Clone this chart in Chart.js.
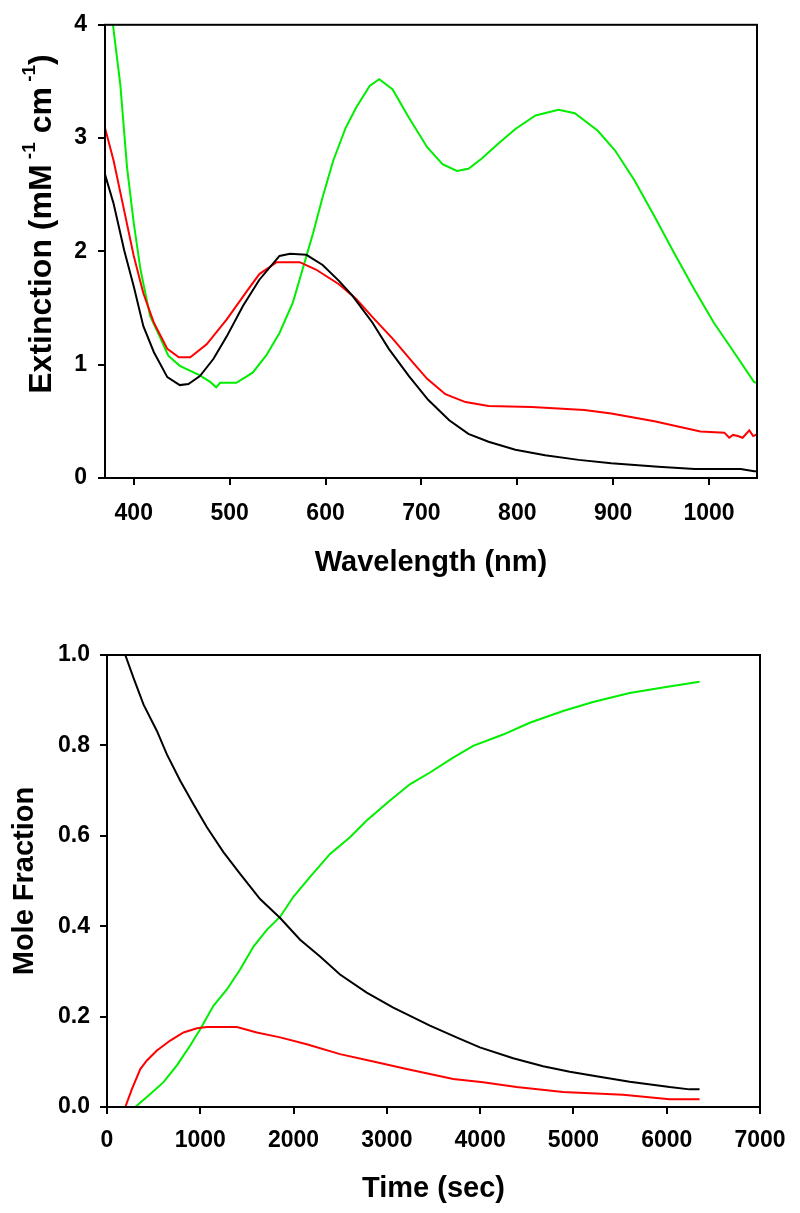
<!DOCTYPE html>
<html><head><meta charset="utf-8">
<script src="https://cdn.jsdelivr.net/npm/chart.js@4.4.1/dist/chart.umd.min.js"></script>
<style>
html,body{margin:0;padding:0;background:#fff;width:800px;height:1213px;overflow:hidden;}
#c1{position:absolute;left:0;top:0;}
#c2{position:absolute;left:0;top:610px;}
</style>
</head><body>
<canvas id="c1" width="800" height="600"></canvas>
<canvas id="c2" width="800" height="603"></canvas>
<script>
// ---------- Top chart data (Wavelength nm vs Extinction) ----------
const blackNm  = [370,379,390,400,410,421,435,448,457,469,483,497,514,531,552,563,580,597,614,628,649,666,687,707,729,749,770,798,829,864,898,947,985,1033,1047,1050];
const blackExt = [2.68,2.42,2.01,1.69,1.34,1.11,0.89,0.82,0.83,0.90,1.05,1.25,1.52,1.75,1.96,1.98,1.97,1.88,1.74,1.61,1.37,1.14,0.90,0.69,0.51,0.39,0.32,0.25,0.20,0.16,0.13,0.10,0.08,0.08,0.06,0.06];

const redNm  = [370,379,390,400,410,421,435,447,459,476,497,518,531,549,573,590,614,632,649,670,691,706,725,746,770,815,870,898,943,991,1016,1021,1025,1030,1035,1042,1046,1050];
const redExt = [3.09,2.80,2.36,1.96,1.63,1.37,1.14,1.065,1.065,1.18,1.40,1.65,1.80,1.905,1.905,1.84,1.71,1.58,1.42,1.23,1.02,0.875,0.74,0.67,0.635,0.627,0.60,0.57,0.50,0.41,0.40,0.355,0.38,0.37,0.355,0.42,0.37,0.385];

const greenNm  = [378,386,393,400,407,417,428,436,448,469,480,486,490,507,524,538,552,566,576,587,597,608,621,632,646,656,670,687,706,722,737,749,763,780,798,819,843,860,884,902,922,943,964,985,1005,1026,1047,1050];
const greenExt = [4.02,3.47,2.74,2.25,1.84,1.43,1.23,1.08,0.99,0.905,0.846,0.80,0.84,0.84,0.93,1.08,1.28,1.55,1.84,2.16,2.48,2.80,3.09,3.27,3.46,3.52,3.43,3.18,2.92,2.77,2.71,2.73,2.82,2.95,3.08,3.20,3.25,3.22,3.065,2.89,2.63,2.31,1.98,1.66,1.37,1.11,0.846,0.84];

const wavelengthTicks = [400,500,600,700,800,900,1000];
const extinctionTicks = [0,1,2,3,4];

// ---------- Bottom chart data (Time sec vs Mole Fraction) ----------
const blackT = [196,285,392,535,642,785,927,1071,1248,1427,1641,1856,2070,2284,2498,2784,3069,3462,3747,3997,4354,4675,4961,5246,5603,6031,6245,6352];
const blackF = [1.0,0.949,0.89,0.832,0.78,0.722,0.67,0.619,0.564,0.516,0.46,0.418,0.37,0.333,0.293,0.253,0.22,0.18,0.154,0.132,0.108,0.09,0.078,0.068,0.056,0.044,0.039,0.039];

const greenT = [197,303,464,606,749,892,999,1141,1285,1427,1570,1713,1856,1998,2177,2391,2605,2784,3033,3247,3462,3711,3925,4246,4532,4889,5210,5603,5959,6352];
const greenF = [0,0,0.029,0.055,0.092,0.136,0.172,0.224,0.26,0.304,0.355,0.392,0.421,0.465,0.509,0.56,0.597,0.634,0.678,0.714,0.74,0.773,0.799,0.824,0.85,0.876,0.896,0.916,0.928,0.941];

const redT = [196,268,357,428,535,678,820,964,1071,1392,1606,1856,2141,2498,2891,3212,3462,3711,4032,4390,4889,5531,6031,6352];
const redF = [0,0.04,0.084,0.103,0.125,0.147,0.165,0.174,0.177,0.177,0.165,0.154,0.139,0.117,0.099,0.084,0.073,0.062,0.055,0.044,0.033,0.027,0.017,0.017];

const timeTicks = [0,1000,2000,3000,4000,5000,6000,7000];
const fractionTicks = [0,0.2,0.4,0.6,0.8,1.0];

// ---------- helpers ----------
const FAMILY = '"Liberation Sans", Arial, Helvetica, sans-serif';
const BLACK = '#000000', RED = '#ff0000', GREEN = '#00ee00';
const pts = (xs, ys) => xs.map((x, i) => ({x: x, y: ys[i]}));
const ds = (data, color) => ({data, borderColor: color, borderWidth: 2, pointRadius: 0, tension: 0, fill: false});

const framePlugin = {
  id: 'frame',
  afterDraw(chart) {
    const {ctx, chartArea: a} = chart;
    ctx.save();
    ctx.strokeStyle = '#000';
    ctx.lineWidth = 2;
    ctx.strokeRect(a.left, a.top, a.right - a.left, a.bottom - a.top);
    ctx.restore();
  }
};

function axisOpts(ticksArr, min, max, fmt, labelPad) {
  return {
    type: 'linear', min, max,
    afterBuildTicks: (scale) => { scale.ticks = ticksArr.map(v => ({value: v})); },
    grid: {display: true, drawOnChartArea: false, drawTicks: true, tickLength: 7, color: '#000', lineWidth: 2},
    border: {display: true, color: '#000', width: 2},
    ticks: {autoSkip: false, maxRotation: 0, color: '#000', padding: labelPad,
            font: {family: FAMILY, size: 23, weight: 'bold'},
            callback: fmt}
  };
}

// ---------- top chart ----------
const yTitlePlugin = {
  id: 'yTitleSup',
  afterDraw(chart) {
    const ctx = chart.ctx;
    const big = 'bold 32px ' + FAMILY;
    const small = 'bold 19px ' + FAMILY;
    const parts = [
      ['Extinction (mM', big, 0],
      [' -1', small, 12],
      [' cm', big, 0],
      [' -1', small, 12],
      [')', big, 0]
    ];
    ctx.save();
    let total = 0;
    parts.forEach(p => { ctx.font = p[1]; total += ctx.measureText(p[0]).width; });
    ctx.translate(42, 224);
    ctx.rotate(-Math.PI / 2);
    ctx.fillStyle = '#000';
    ctx.textBaseline = 'middle';
    ctx.textAlign = 'left';
    let x = -total / 2;
    parts.forEach(p => {
      ctx.font = p[1];
      ctx.fillText(p[0], x, -p[2]);
      x += ctx.measureText(p[0]).width;
    });
    ctx.restore();
  }
};

new Chart(document.getElementById('c1'), {
  type: 'line',
  data: {datasets: [
    ds(pts(blackNm, blackExt), BLACK),
    ds(pts(redNm, redExt), RED),
    ds(pts(greenNm, greenExt), GREEN)
  ]},
  options: {
    responsive: false, animation: false, devicePixelRatio: 1,
    layout: {padding: {left: 0, top: 23, right: 43, bottom: 0}},
    plugins: {legend: {display: false}, tooltip: {enabled: false}},
    scales: {
      x: Object.assign(axisOpts(wavelengthTicks, 370, 1050, v => String(v), 15), {
        afterFit: (s) => { s.height = 122; },
        title: {display: true, text: 'Wavelength (nm)', color: '#000',
                font: {family: FAMILY, size: 29, weight: 'bold'}, padding: {top: 0, bottom: 20}}
      }),
      y: Object.assign(axisOpts(extinctionTicks, 0, 4, v => String(v), 11), {
        afterFit: (s) => { s.width = 105; }
      })
    }
  },
  plugins: [framePlugin, yTitlePlugin]
});

// ---------- bottom chart ----------
new Chart(document.getElementById('c2'), {
  type: 'line',
  data: {datasets: [
    ds(pts(blackT, blackF), BLACK),
    ds(pts(redT, redF), RED),
    ds(pts(greenT, greenF), GREEN)
  ]},
  options: {
    responsive: false, animation: false, devicePixelRatio: 1,
    layout: {padding: {left: 0, top: 45, right: 40, bottom: 0}},
    plugins: {legend: {display: false}, tooltip: {enabled: false}},
    scales: {
      x: Object.assign(axisOpts(timeTicks, 0, 7000, v => String(v), 13), {
        afterFit: (s) => { s.height = 106; },
        title: {display: true, text: 'Time (sec)', color: '#000',
                font: {family: FAMILY, size: 29, weight: 'bold'}, padding: {top: 0, bottom: 7}}
      }),
      y: Object.assign(axisOpts(fractionTicks, 0, 1.0, v => Number(v).toFixed(1), 10), {
        afterFit: (s) => { s.width = 107; },
        title: {display: true, text: 'Mole Fraction', color: '#000',
                font: {family: FAMILY, size: 29, weight: 'bold'}, padding: {top: 8, bottom: 0}}
      })
    }
  },
  plugins: [framePlugin]
});
</script>
</body></html>
